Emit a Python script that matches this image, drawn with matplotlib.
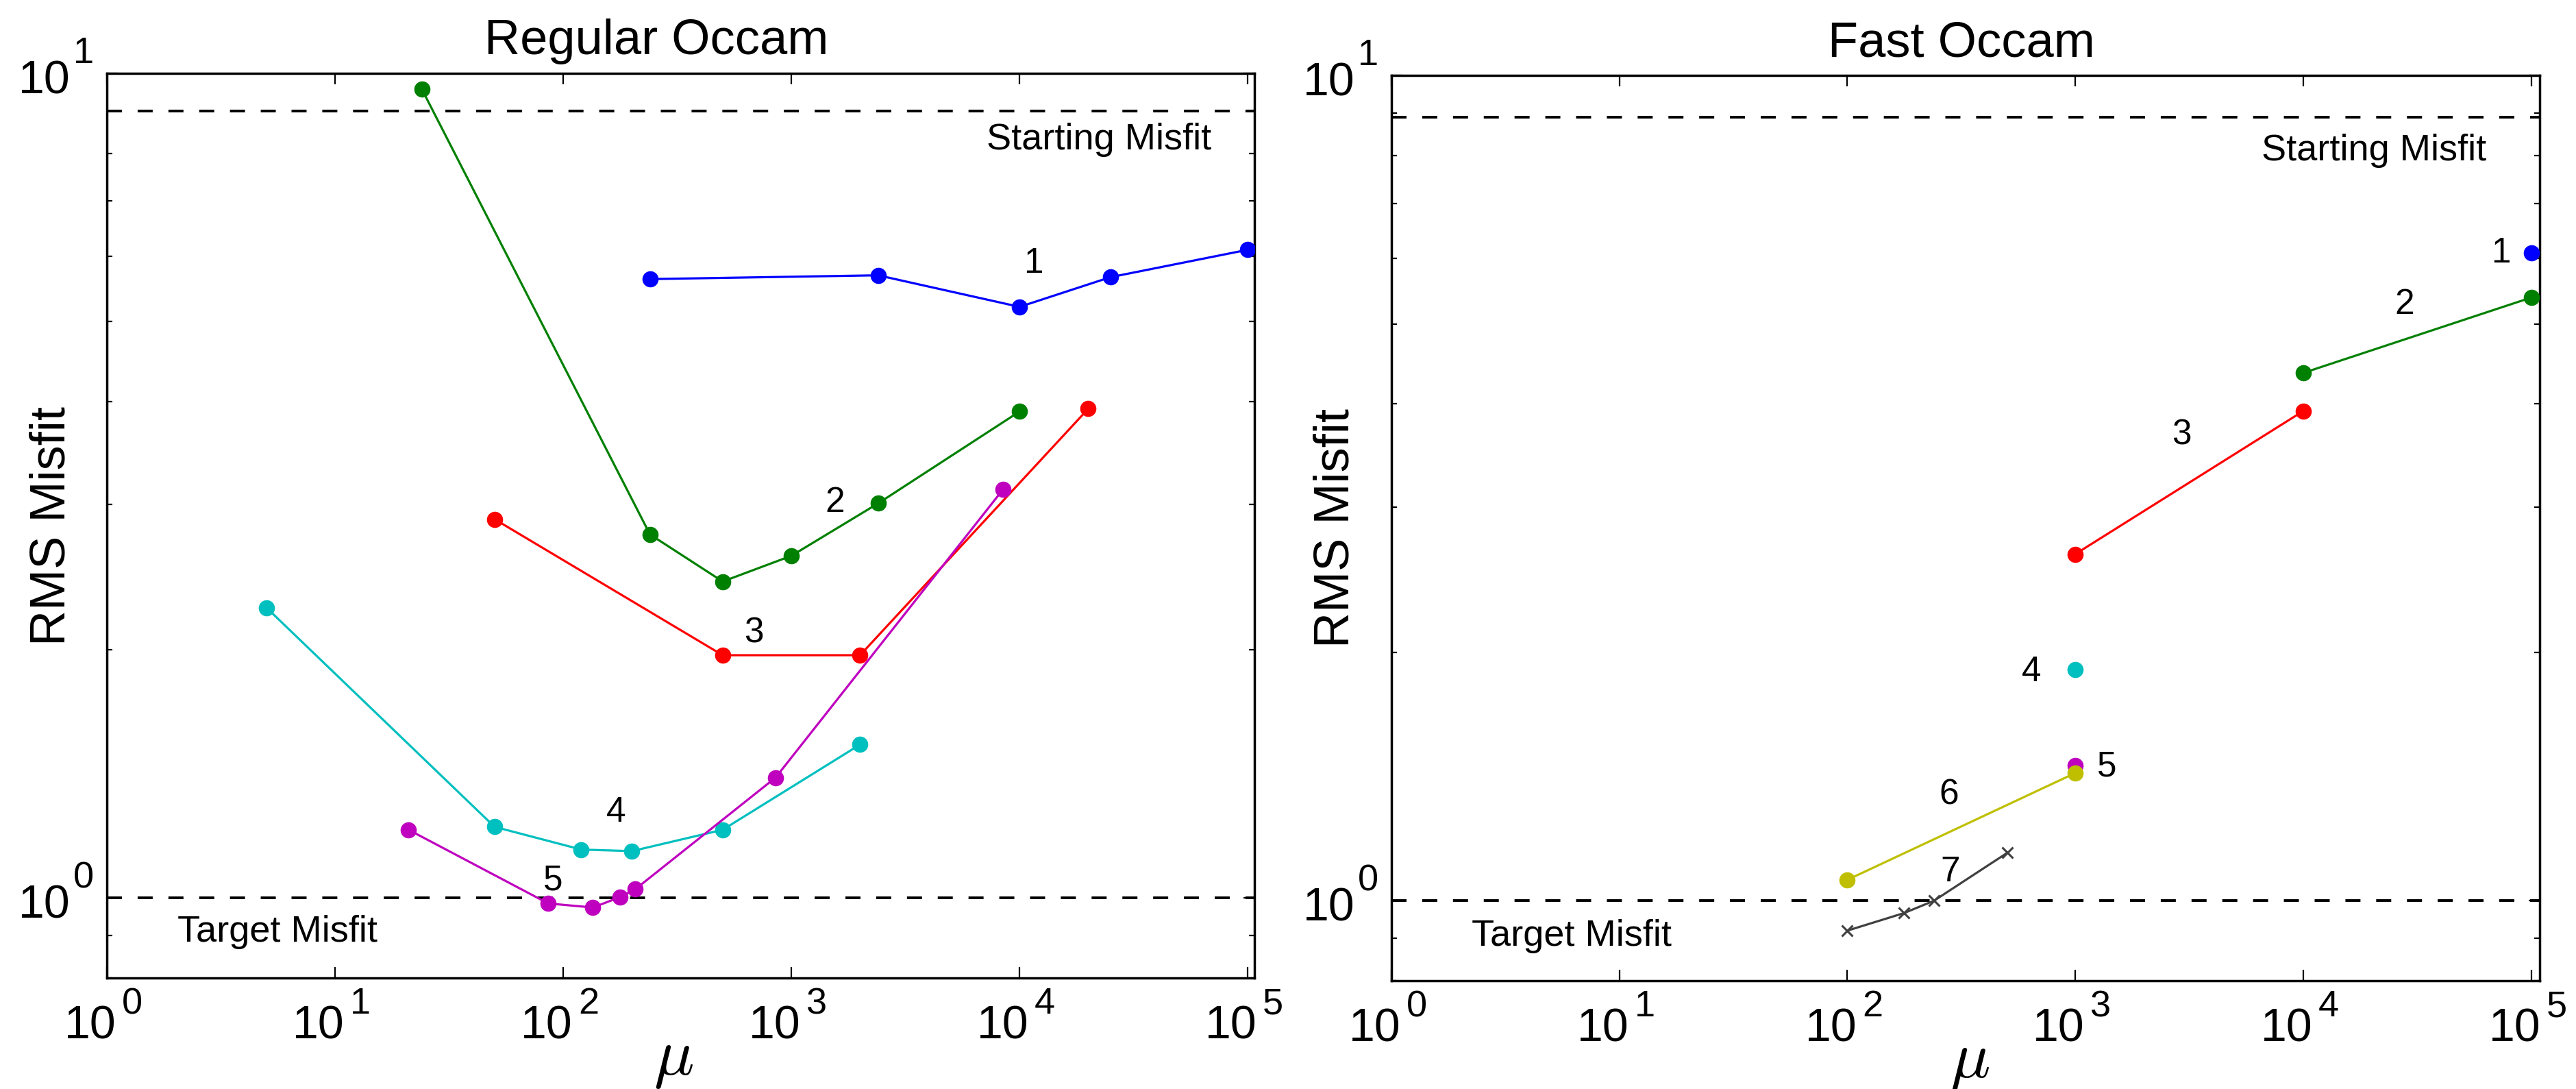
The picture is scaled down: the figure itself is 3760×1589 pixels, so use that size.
import numpy as np
import matplotlib
matplotlib.use('Agg')
import matplotlib.pyplot as plt
from matplotlib.ticker import LogLocator, NullLocator, NullFormatter

plt.rcParams['font.family'] = ['Liberation Sans', 'DejaVu Sans']

# ---- data ----
# Regular Occam
reg_mu = [
    [240, 2400, 10000, 25000, 100000],
    [24, 240, 500, 1000, 2400, 10000],
    [50, 500, 2000, 20000],
    [5, 50, 120, 200, 500, 2000],
    [21, 86, 135, 178, 207, 853, 8470],
]
reg_rms = [
    [5.63, 5.69, 5.21, 5.66, 6.11],
    [9.57, 2.76, 2.42, 2.60, 3.01, 3.89],
    [2.88, 1.97, 1.97, 3.92],
    [2.25, 1.22, 1.145, 1.14, 1.21, 1.535],
    [1.21, 0.985, 0.974, 1.003, 1.025, 1.40, 3.13],
]
# Fast Occam
fast_mu = [
    [100000],
    [10000, 100000],
    [1000, 10000],
    [1000],
    [1000],
    [100, 1000],
    [100, 177, 240, 503],
]
fast_rms = [
    [6.10],
    [4.36, 5.38],
    [2.63, 3.92],
    [1.905],
    [1.457],
    [1.06, 1.428],
    [0.920, 0.966, 1.0, 1.143],
]
iter_labels = ['1', '2', '3', '4', '5', '6', '7']
colors = [(0, 0, 1), (0, 0.5, 0), (1, 0, 0), (0, 0.75, 0.75),
          (0.75, 0, 0.75), (0.75, 0.75, 0), (0.25, 0.25, 0.25)]
markers = ['o', 'o', 'o', 'o', 'o', 'o', 'x']

x_decades = [0, 1, 2, 3, 4, 5]
y_decades = [0, 1]

start_misfit = [9.0, 8.9]
target_misfit = 1.0

# where the iteration numbers sit (text anchors, baseline)
reg_lab_xy = [(11480, 5.73), (1556, 2.94), (684, 2.04), (170, 1.238), (90.2, 1.023)]
fast_lab_xy = [(73800, 5.93), (27800, 5.14), (2930, 3.57), (643, 1.844),
               (1377, 1.416), (280, 1.31), (282, 1.055)]

fig = plt.figure(figsize=(37.6, 15.89), dpi=100)
ax1 = fig.add_axes([0.04149, 0.10195, 0.44548, 0.83071])
ax2 = fig.add_axes([0.54016, 0.09943, 0.44574, 0.83134])

dash = (0, (5.65, 5.9))
PX = 0.72  # pixels -> points at 100 dpi


def power_labels(ax):
    # matlab style 10^n labels: big "10", raised exponent
    for d in x_decades:
        ax.annotate('10', xy=(10.0 ** d, 0), xycoords=('data', 'axes fraction'),
                    xytext=(-62 * PX, -88 * PX), textcoords='offset points',
                    ha='left', va='baseline', fontsize=49, annotation_clip=False)
        ax.annotate(str(d), xy=(10.0 ** d, 0), xycoords=('data', 'axes fraction'),
                    xytext=(22 * PX, -52 * PX), textcoords='offset points',
                    ha='left', va='baseline', fontsize=39, annotation_clip=False)
    for d in y_decades:
        ax.annotate('10', xy=(0, 10.0 ** d), xycoords=('axes fraction', 'data'),
                    xytext=(-129 * PX, -29 * PX), textcoords='offset points',
                    ha='left', va='baseline', fontsize=49, annotation_clip=False)
        ax.annotate(str(d), xy=(0, 10.0 ** d), xycoords=('axes fraction', 'data'),
                    xytext=(-49 * PX, 15 * PX), textcoords='offset points',
                    ha='left', va='baseline', fontsize=39, annotation_clip=False)


def style(ax, xmax, title, title_x, start_xy, target_xy, start_val, xl_x):
    ax.set_xscale('log')
    ax.set_yscale('log')
    ax.set_xlim(1, xmax)
    ax.set_ylim(0.8, 10)
    ax.axhline(start_val, color='k', lw=2.8, ls=dash, zorder=1)
    ax.axhline(target_misfit, color='k', lw=2.8, ls=dash, zorder=1)
    ax.text(start_xy[0], start_xy[1], 'Starting Misfit', fontsize=39,
            ha='center', va='baseline')
    ax.text(target_xy[0], target_xy[1], 'Target Misfit', fontsize=39,
            ha='center', va='baseline')
    ax.xaxis.set_major_locator(LogLocator(base=10, numticks=10))
    ax.xaxis.set_minor_locator(NullLocator())
    ax.xaxis.set_major_formatter(NullFormatter())
    ax.yaxis.set_major_locator(LogLocator(base=10, numticks=10))
    ax.yaxis.set_minor_locator(LogLocator(base=10, subs=np.arange(2, 10), numticks=10))
    ax.yaxis.set_major_formatter(NullFormatter())
    ax.yaxis.set_minor_formatter(NullFormatter())
    ax.tick_params(which='both', direction='in', top=True, right=True)
    ax.tick_params(which='major', length=11.5, width=1.6)
    ax.tick_params(which='minor', length=5.5, width=1.6)
    for s in ax.spines.values():
        s.set_linewidth(2.5)
    power_labels(ax)
    ax.set_title(title, fontsize=52, x=title_x, pad=20)
    ax.set_ylabel('RMS Misfit', fontsize=52, va='baseline')
    ax.yaxis.set_label_coords(-0.037, 0.5)
    ax.set_xlabel(r'$\mu$', fontsize=70, va='baseline', math_fontfamily='cm')
    ax.xaxis.set_label_coords(xl_x, -0.107)


for i in range(len(reg_mu)):
    ax1.plot(reg_mu[i], reg_rms[i], '-', marker=markers[i], color=colors[i],
             lw=2.3, ms=17, mew=0, zorder=3)
    ax1.text(reg_lab_xy[i][0], reg_lab_xy[i][1], iter_labels[i], fontsize=37,
             ha='center', va='baseline')

for i in range(len(fast_mu)):
    if markers[i] == 'x':
        ax2.plot(fast_mu[i], fast_rms[i], '-', marker='x', color=colors[i],
                 lw=2.3, ms=12, mew=2.2, zorder=3)
    else:
        ax2.plot(fast_mu[i], fast_rms[i], '-', marker='o', color=colors[i],
                 lw=2.3, ms=17, mew=0, zorder=3)
    ax2.text(fast_lab_xy[i][0], fast_lab_xy[i][1], iter_labels[i], fontsize=37,
             ha='center', va='baseline')

style(ax1, 1.07e5, 'Regular Occam', 0.479, (22300, 8.09), (5.59, 0.885),
      start_misfit[0], 0.494)
style(ax2, 1.09e5, 'Fast Occam', 0.4964, (20500, 7.89), (6.18, 0.882),
      start_misfit[1], 0.5036)

fig.savefig('out.png', dpi=100)
